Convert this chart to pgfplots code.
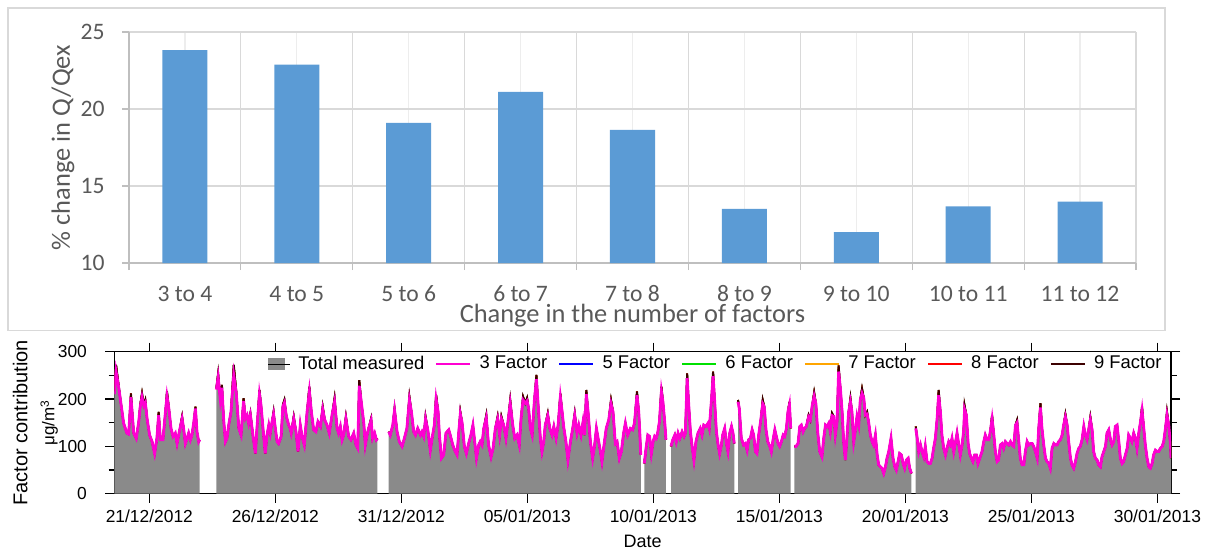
\documentclass[border=0pt]{standalone}
\usepackage{fontspec}
\setmainfont{Liberation Sans}
\newfontfamily\calibri{Carlito}
\usepackage{pgfplots}
\usepackage{pgfplotstable}
\pgfplotsset{compat=1.18}
\definecolor{barblue}{HTML}{5B9BD5}
\definecolor{gridgray}{HTML}{D9D9D9}
\definecolor{lightgrid}{HTML}{EDEDED}
\definecolor{axisgray}{HTML}{BFBFBF}
\definecolor{textgray}{HTML}{595959}
\definecolor{areagray}{HTML}{8A8A8A}
\definecolor{magentaline}{HTML}{FF00D2}
\definecolor{darkline}{HTML}{3C0000}
\definecolor{blueline}{HTML}{0000FF}
\definecolor{greenline}{HTML}{00E000}
\definecolor{orangeline}{HTML}{FFA500}
\definecolor{redline}{HTML}{FF0000}

\pgfplotstableread{
d t m
-1.39 216 210
-1.32 272 258
-1.22 230 226
-1.12 188 188
-1.02 149 149
-0.89 128 128
-0.82 126 126
-0.73 212 204
-0.62 128 128
-0.52 117 117
-0.42 152 152
-0.36 188 184
-0.29 212 204
-0.22 188 186
-0.16 198 192
-0.09 159 159
0.01 124 124
0.11 110 110
0.21 85 85
0.30 117 117
0.37 173 166
0.44 114 114
0.54 114 114
0.64 173 173
0.70 216 206
0.77 184 182
0.86 138 138
0.94 121 121
1.03 128 128
1.10 106 106
1.19 131 131
1.30 163 158
1.36 138 138
1.43 106 106
1.50 117 117
1.56 128 128
1.63 114 114
1.69 124 124
1.76 149 149
1.83 184 180
1.89 131 131
1.96 110 110
2.00 114 114
2.30 nan nan
2.66 223 220
2.73 254 246
2.82 198 198
2.88 230 224
2.95 156 156
3.02 110 110
3.08 117 117
3.15 145 145
3.24 173 173
3.35 272 250
3.45 216 212
3.55 138 138
3.64 124 124
3.74 202 196
3.81 159 159
3.88 166 166
3.94 149 149
4.01 170 166
4.11 124 124
4.21 85 85
4.27 138 138
4.37 219 210
4.43 188 188
4.51 138 138
4.60 85 85
4.67 124 124
4.74 145 145
4.80 128 128
4.87 152 152
4.93 173 168
5.00 138 138
5.07 110 110
5.13 106 106
5.23 121 121
5.30 188 184
5.36 198 192
5.44 163 163
5.53 145 145
5.59 138 138
5.63 128 128
5.73 163 158
5.82 131 131
5.90 89 89
5.99 145 145
6.06 121 121
6.15 103 103
6.26 173 173
6.35 226 216
6.43 173 173
6.52 135 135
6.61 131 131
6.69 152 152
6.79 142 142
6.88 184 178
6.96 156 156
7.05 145 145
7.14 128 128
7.25 166 166
7.35 202 194
7.45 138 138
7.51 128 128
7.58 142 142
7.65 114 114
7.71 124 124
7.80 163 158
7.91 121 121
8.00 114 114
8.11 128 128
8.20 103 103
8.27 96 96
8.33 240 228
8.41 194 194
8.51 149 149
8.57 103 103
8.64 124 124
8.70 138 138
8.80 159 155
8.86 117 117
8.94 128 128
9.01 114 114
9.05 117 117
9.30 nan nan
9.50 131 131
9.56 124 124
9.66 145 145
9.73 180 176
9.83 131 131
9.92 110 110
10.03 100 100
10.12 117 117
10.22 138 138
10.32 205 198
10.40 173 173
10.49 131 131
10.56 124 124
10.65 138 138
10.76 124 124
10.82 131 131
10.89 121 121
10.96 163 158
11.06 131 131
11.15 92 92
11.22 117 117
11.31 145 145
11.38 209 200
11.46 173 173
11.51 124 124
11.59 75 75
11.68 82 82
11.77 128 128
11.88 135 135
11.94 124 124
12.04 103 103
12.14 89 89
12.21 82 82
12.28 131 131
12.34 173 168
12.41 150 150
12.50 100 100
12.58 85 85
12.67 106 106
12.76 124 124
12.84 145 145
12.91 110 110
12.98 75 75
13.07 103 103
13.13 110 110
13.20 103 103
13.27 138 138
13.37 166 160
13.46 103 103
13.56 78 78
13.64 96 96
13.73 138 138
13.82 163 158
13.90 124 124
13.97 163 158
14.06 145 145
14.15 117 117
14.23 152 152
14.32 198 190
14.42 145 145
14.50 117 117
14.59 124 124
14.68 103 103
14.75 159 159
14.83 205 198
14.92 191 191
14.99 202 196
15.05 180 180
15.12 138 138
15.19 124 124
15.28 198 198
15.36 251 242
15.42 194 194
15.52 114 114
15.58 89 89
15.65 110 110
15.71 145 145
15.81 170 165
15.89 138 138
15.98 124 124
16.05 142 142
16.14 117 117
16.22 145 145
16.31 212 204
16.38 173 173
16.44 142 142
16.53 110 110
16.61 71 71
16.71 110 110
16.80 138 138
16.88 170 165
16.97 128 128
17.04 145 145
17.13 124 124
17.21 152 152
17.27 124 124
17.34 219 210
17.41 173 173
17.50 110 110
17.59 75 75
17.67 103 103
17.74 138 138
17.83 110 110
17.90 89 89
17.96 68 68
18.06 110 110
18.13 138 138
18.23 156 156
18.32 198 190
18.40 173 173
18.49 106 106
18.56 110 110
18.65 75 75
18.73 89 89
18.82 128 128
18.89 149 149
18.98 124 124
19.09 138 138
19.18 135 135
19.25 149 149
19.35 216 208
19.42 173 173
19.46 131 131
19.50 82 82
19.57 nan nan
19.64 64 64
19.71 96 96
19.78 124 124
19.85 121 121
19.92 85 85
19.99 110 110
20.05 121 121
20.11 117 117
20.17 128 128
20.24 152 152
20.32 226 216
20.38 194 194
20.45 152 152
20.50 114 114
20.60 nan nan
20.70 100 100
20.77 114 114
20.85 124 124
20.91 110 110
20.98 128 128
21.05 117 117
21.14 131 131
21.22 121 121
21.27 128 128
21.34 254 244
21.40 191 191
21.47 131 131
21.53 103 103
21.61 71 71
21.69 110 110
21.77 128 128
21.86 138 138
21.93 124 124
22.00 145 145
22.09 142 142
22.17 149 149
22.22 138 138
22.30 194 194
22.37 258 248
22.43 198 198
22.50 131 131
22.57 103 103
22.63 85 85
22.70 103 103
22.75 124 124
22.83 138 138
22.91 103 103
22.96 89 89
23.03 128 128
23.10 142 142
23.16 128 128
23.21 106 106
23.28 nan nan
23.36 198 194
23.41 180 180
23.49 117 117
23.58 103 103
23.65 106 106
23.72 92 92
23.78 114 114
23.85 117 117
23.92 135 135
23.98 124 124
24.05 89 89
24.11 85 85
24.18 124 124
24.27 159 159
24.34 198 190
24.40 184 184
24.47 135 135
24.54 110 110
24.62 100 100
24.68 89 89
24.75 114 114
24.82 135 135
24.88 121 121
24.95 106 106
25.01 100 100
25.08 110 110
25.15 124 124
25.21 121 121
25.28 138 138
25.34 173 173
25.40 194 188
25.45 138 138
25.52 nan nan
25.60 100 100
25.66 100 100
25.74 106 106
25.81 142 142
25.87 145 145
25.94 131 131
26.00 138 138
26.07 142 142
26.16 166 162
26.23 156 156
26.30 185 185
26.38 214 206
26.45 190 190
26.52 131 131
26.60 89 89
26.69 78 78
26.76 117 117
26.83 145 145
26.89 142 142
26.96 149 149
27.02 131 131
27.09 170 165
27.16 163 163
27.22 124 124
27.29 152 152
27.35 271 258
27.42 223 223
27.49 173 173
27.55 110 110
27.62 71 71
27.68 117 117
27.75 173 173
27.82 202 194
27.88 173 173
27.95 110 110
28.02 135 135
28.08 163 163
28.15 145 145
28.21 198 198
28.28 222 212
28.35 202 202
28.41 166 166
28.48 173 168
28.54 152 152
28.61 124 124
28.68 110 110
28.74 103 103
28.81 124 124
28.88 82 82
28.94 61 61
29.01 57 57
29.07 54 54
29.14 43 43
29.21 57 57
29.27 75 75
29.34 89 89
29.43 117 117
29.51 75 75
29.58 57 57
29.64 50 50
29.71 68 68
29.77 85 85
29.84 82 82
29.91 64 64
29.97 54 54
30.04 71 71
30.11 75 75
30.17 54 54
30.24 43 43
30.32 nan nan
30.41 142 138
30.46 121 121
30.53 89 89
30.60 103 103
30.66 89 89
30.73 78 78
30.79 100 100
30.86 68 68
30.93 64 64
30.99 64 64
31.06 75 75
31.12 96 96
31.19 117 117
31.26 159 159
31.32 219 208
31.39 173 173
31.45 124 124
31.52 96 96
31.59 82 82
31.65 96 96
31.72 110 110
31.79 103 103
31.85 117 117
31.92 89 89
31.98 106 106
32.05 128 128
32.12 103 103
32.18 82 82
32.25 103 103
32.31 131 131
32.35 186 178
32.42 166 166
32.49 106 106
32.55 85 85
32.62 75 75
32.68 68 68
32.75 82 82
32.82 82 82
32.88 64 64
32.95 75 75
33.04 89 89
33.11 110 110
33.17 124 124
33.24 114 114
33.31 114 114
33.37 131 131
33.44 166 158
33.51 124 124
33.57 89 89
33.64 68 68
33.70 71 71
33.77 103 103
33.84 106 106
33.90 96 96
33.97 110 110
34.04 106 106
34.10 103 103
34.17 110 110
34.23 103 103
34.30 100 100
34.37 145 145
34.43 155 150
34.50 110 110
34.56 75 75
34.63 61 61
34.70 61 61
34.76 89 89
34.83 110 110
34.89 103 103
34.96 106 106
35.03 106 106
35.09 100 100
35.16 89 89
35.23 75 75
35.29 138 138
35.36 191 182
35.42 138 138
35.49 103 103
35.56 75 75
35.62 68 68
35.69 64 64
35.75 54 54
35.82 96 96
35.89 106 106
35.95 103 103
36.02 103 103
36.08 110 110
36.15 114 114
36.22 124 124
36.28 145 145
36.35 168 162
36.42 145 145
36.48 110 110
36.55 75 75
36.61 61 61
36.68 54 54
36.75 68 68
36.81 85 85
36.88 96 96
36.94 100 100
37.01 114 114
37.08 142 142
37.14 124 124
37.21 114 114
37.28 138 138
37.34 162 156
37.41 135 135
37.47 89 89
37.54 75 75
37.61 71 71
37.67 61 61
37.74 57 57
37.80 78 78
37.87 89 89
37.94 100 100
38.00 128 128
38.07 135 135
38.14 114 114
38.20 103 103
38.27 110 110
38.33 142 142
38.40 145 145
38.47 110 110
38.53 75 75
38.60 64 64
38.66 68 68
38.73 82 82
38.80 96 96
38.86 124 124
38.93 117 117
38.99 110 110
39.06 128 128
39.13 117 117
39.19 96 96
39.26 128 128
39.33 152 152
39.39 184 176
39.46 138 138
39.52 103 103
39.59 75 75
39.66 57 57
39.72 54 54
39.79 64 64
39.85 82 82
39.92 92 92
39.99 89 89
40.05 89 89
40.12 96 96
40.19 100 100
40.25 110 110
40.32 138 138
40.38 173 166
40.45 145 145
40.52 103 103
40.54 75 75
}\ts

\begin{document}
\begin{tikzpicture}
\path[use as bounding box] (0pt,0pt) rectangle (604.5pt,-276.5pt);
\draw[color=gridgray, line width=0.6pt] (4pt,-4pt) rectangle (582.5pt,-165.3pt);

% ---------- top: bar chart ----------
\begin{axis}[
  at={(64.5pt,-131.5pt)}, anchor=south west,
  scale only axis, width=503.5pt, height=115.5pt,
  ybar, bar width=22.5pt,
  xmin=0.5, xmax=9.5, ymin=10, ymax=25,
  xtick={1,...,9},
  xticklabels={3 to 4,4 to 5,5 to 6,6 to 7,7 to 8,8 to 9,9 to 10,10 to 11,11 to 12},
  minor xtick={0.5,1.5,...,9.5},
  ytick={10,15,20,25},
  axis lines*=left,
  axis line style={draw=axisgray, line width=0.6pt},
  xmajorgrids, xminorgrids, ymajorgrids,
  major x grid style={draw=lightgrid, line width=0.6pt},
  minor x grid style={draw=gridgray, line width=0.6pt},
  major y grid style={draw=gridgray, line width=0.6pt},
  tick align=outside, major tick length=3.5pt, minor tick length=3.5pt,
  major x tick style={draw=none},
  minor x tick style={draw=axisgray, line width=0.6pt},
  major y tick style={draw=axisgray, line width=0.6pt},
  /pgf/number format/assume math mode=true,
  tick label style={font=\calibri\fontsize{11.8}{13}\selectfont, text=textgray},
  xticklabel style={anchor=base, inner sep=0pt, yshift=-15.8pt},
  yticklabel style={anchor=east, inner sep=0pt, xshift=-8.5pt},
  xlabel={Change in the number of factors},
  ylabel={\% change in Q/Qex},
  label style={font=\calibri\fontsize{13.2}{15}\selectfont, text=textgray},
  xlabel style={at={(axis description cs:0.5,-0.2554)}, anchor=base, inner sep=0pt},
  ylabel style={at={(axis description cs:-0.0586,0.5)}, anchor=base},
]
\addplot[fill=barblue, draw=none] coordinates {
  (1,23.83) (2,22.88) (3,19.10) (4,21.12) (5,18.65)
  (6,13.51) (7,12.00) (8,13.68) (9,13.98)};
\end{axis}

% ---------- bottom: time series ----------
\begin{axis}[
  at={(57.15pt,-246.85pt)}, anchor=south west,
  scale only axis, width=528.35pt, height=71pt,
  xmin=-1.39, xmax=40.54, ymin=0, ymax=300,
  xtick={0,5,...,40},
  xticklabels={21/12/2012,26/12/2012,31/12/2012,05/01/2013,10/01/2013,15/01/2013,20/01/2013,25/01/2013,30/01/2013},
  ytick={0,100,200,300}, minor ytick={50,150,250},
  tick pos=both, tick align=outside,
  major tick length=4.5pt, minor tick length=2.8pt,
  axis line style={line width=0.6pt},
  every tick/.style={black, line width=0.6pt},
  /pgf/number format/assume math mode=true,
  tick label style={font=\fontsize{8.7}{10}\selectfont},
  xticklabel style={anchor=base, yshift=-10pt},
  yticklabel style={anchor=east, inner sep=0pt, xshift=-9pt},
  xlabel={Date},
  xlabel style={font=\fontsize{9}{10}\selectfont, at={(axis description cs:0.5,-0.380)}, anchor=base},
  ylabel={Factor contribution\\{\fontsize{8.5}{10}\selectfont μg/m\textsuperscript{3}}},
  ylabel style={align=center, font=\fontsize{10}{13.5}\selectfont, at={(axis description cs:-0.0746,0.5)}, anchor=center},
  unbounded coords=jump,
  legend columns=-1,
  legend image code/.code={\draw[#1] (0pt,0pt) -- (17pt,0pt);},
  legend style={at={(axis description cs:0.9934,0.9134)}, anchor=east,
    draw=none, fill=none, inner sep=0pt,
    font=\fontsize{9.2}{11}\selectfont, nodes={inner sep=1pt},
    /tikz/every even column/.append style={column sep=4.5pt},
    /tikz/every odd column/.append style={column sep=3pt}},
]
\addplot[fill=areagray, draw=none, forget plot, unbounded coords=discard, restrict x to domain=-2:2.1] table[x=d,y=t]{\ts} \closedcycle;
\addplot[fill=areagray, draw=none, forget plot, unbounded coords=discard, restrict x to domain=2.5:9.2] table[x=d,y=t]{\ts} \closedcycle;
\addplot[fill=areagray, draw=none, forget plot, unbounded coords=discard, restrict x to domain=9.4:19.55] table[x=d,y=t]{\ts} \closedcycle;
\addplot[fill=areagray, draw=none, forget plot, unbounded coords=discard, restrict x to domain=19.6:20.55] table[x=d,y=t]{\ts} \closedcycle;
\addplot[fill=areagray, draw=none, forget plot, unbounded coords=discard, restrict x to domain=20.65:23.25] table[x=d,y=t]{\ts} \closedcycle;
\addplot[fill=areagray, draw=none, forget plot, unbounded coords=discard, restrict x to domain=23.3:25.5] table[x=d,y=t]{\ts} \closedcycle;
\addplot[fill=areagray, draw=none, forget plot, unbounded coords=discard, restrict x to domain=25.55:30.3] table[x=d,y=t]{\ts} \closedcycle;
\addplot[fill=areagray, draw=none, forget plot, unbounded coords=discard, restrict x to domain=30.35:41] table[x=d,y=t]{\ts} \closedcycle;

\addplot[color=blueline, line width=0.8pt, forget plot] table[x=d,y=t]{\ts};
\addplot[color=greenline, line width=0.8pt, forget plot] table[x=d,y=t]{\ts};
\addplot[color=orangeline, line width=0.8pt, forget plot] table[x=d,y=t]{\ts};
\addplot[color=redline, line width=0.8pt, forget plot] table[x=d,y=t]{\ts};
\addplot[color=darkline, line width=1.0pt, forget plot] table[x=d,y=t]{\ts};
\addplot[color=magentaline, line width=1.4pt, forget plot] table[x=d,y=m]{\ts};

\addlegendimage{legend image code/.code={\fill[areagray] (0pt,-2.85pt) rectangle (8.3pt,2.85pt); \path (0pt,0pt) -- (11pt,0pt);}}
\addlegendentry{Total measured}
\addlegendimage{color=magentaline, line width=1.2pt}
\addlegendentry{3 Factor}
\addlegendimage{color=blueline, line width=1.2pt}
\addlegendentry{5 Factor}
\addlegendimage{color=greenline, line width=1.2pt}
\addlegendentry{6 Factor}
\addlegendimage{color=orangeline, line width=1.2pt}
\addlegendentry{7 Factor}
\addlegendimage{color=redline, line width=1.2pt}
\addlegendentry{8 Factor}
\addlegendimage{color=darkline, line width=1.2pt}
\addlegendentry{9 Factor}
\end{axis}
\end{tikzpicture}
\end{document}
